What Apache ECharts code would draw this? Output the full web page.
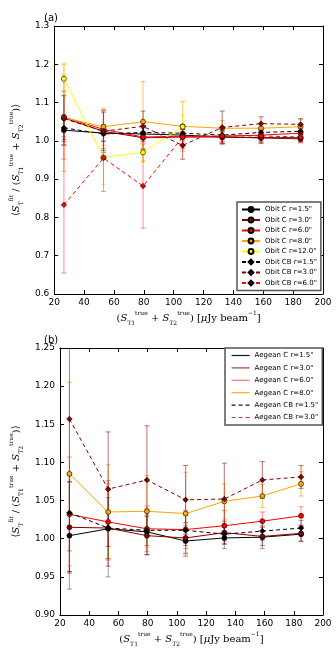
<!DOCTYPE html>
<html>
<head>
<meta charset="utf-8">
<script src="https://cdn.jsdelivr.net/npm/echarts@6/dist/echarts.min.js"></script>
<style>
    html, body { margin: 0; padding: 0; background: #fff; }
    #chart { width: 336px; height: 648px; }
</style>
</head>
<body>
<div id="chart"></div>
<script>
    // flux bins (x), shared by both panels
    const fluxBins = [26.5, 53, 79.5, 106, 132.5, 158.5, 185];

    // panel (a): Obit
    const obitC15 = [1.028, 1.020, 1.018, 1.015, 1.010, 1.008, 1.008];
    const obitC15Err = [0.040, 0.020, 0.015, 0.015, 0.012, 0.012, 0.010];
    const obitC30 = [1.060, 1.025, 1.008, 1.010, 1.010, 1.008, 1.005];
    const obitC30Err = [0.070, 0.055, 0.030, 0.020, 0.015, 0.015, 0.010];
    const obitC60 = [1.062, 1.030, 1.010, 1.012, 1.012, 1.015, 1.020];
    const obitC60Err = [0.110, 0.050, 0.030, 0.020, 0.020, 0.015, 0.012];
    const obitC80 = [1.060, 1.037, 1.050, 1.038, 1.033, 1.033, 1.037];
    const obitC80Err = [0.140, 0.048, 0.105, 0.065, 0.020, 0.015, 0.020];
    const obitC120 = [1.162, 0.957, 0.970, 1.037, null, null, null];
    const obitC120Err = [0.040, 0.072, 0.022, 0.030, null, null, null];
    const obitCB15 = [1.034, 1.018, 1.022, 1.020, 1.015, 1.022, 1.025];
    const obitCB15Err = [0.030, 0.020, 0.015, 0.015, 0.012, 0.012, 0.010];
    const obitCB30 = [1.058, 1.025, 1.038, 0.988, 1.035, 1.045, 1.043];
    const obitCB30Err = [0.060, 0.050, 0.040, 0.036, 0.043, 0.018, 0.015];
    const obitCB60 = [0.833, 0.955, 0.882, 1.010, 1.013, 1.013, 1.010];
    const obitCB60Err = [0.178, 0.087, 0.110, 0.030, 0.020, 0.015, 0.012];

    // panel (b): Aegean
    const aegC15 = [1.004, 1.013, 1.009, 0.997, 1.001, 1.002, 1.006];
    const aegC15Err = [0.070, 0.063, 0.030, 0.020, 0.014, 0.015, 0.010];
    const aegC30 = [1.015, 1.014, 1.004, 1.001, 1.008, 1.003, 1.007];
    const aegC30Err = [0.060, 0.050, 0.025, 0.020, 0.015, 0.012, 0.010];
    const aegC60 = [1.032, 1.022, 1.013, 1.012, 1.017, 1.023, 1.030];
    const aegC60Err = [0.075, 0.050, 0.030, 0.025, 0.020, 0.012, 0.012];
    const aegC80 = [1.085, 1.035, 1.036, 1.033, 1.049, 1.056, 1.072];
    const aegC80Err = [0.120, 0.062, 0.047, 0.054, 0.023, 0.015, 0.016];
    const aegCB15 = [1.034, 1.014, 1.011, 1.011, 1.006, 1.010, 1.014];
    const aegCB15Err = [0.050, 0.040, 0.020, 0.020, 0.013, 0.012, 0.010];
    const aegCB30 = [1.157, 1.065, 1.077, 1.051, 1.052, 1.077, 1.081];
    const aegCB30Err = [0.200, 0.075, 0.071, 0.045, 0.047, 0.024, 0.015];

    // tick labels
    const xTicks = [20, 40, 60, 80, 100, 120, 140, 160, 180, 200];
    const yTicksA = ['0.6', '0.7', '0.8', '0.9', '1.0', '1.1', '1.2', '1.3'];
    const yTicksB = ['0.90', '0.95', '1.00', '1.05', '1.10', '1.15', '1.20', '1.25'];

    const colors = {
        black: { line: '#000000', bar: 'rgba(0,0,0,0.35)', key: 'rgba(0,0,0,0.9)' },
        darkred: { line: '#8b0000', bar: 'rgba(139,0,0,0.5)', key: 'rgba(160,40,40,0.9)' },
        red: { line: '#ff0000', bar: 'rgba(255,0,0,0.4)', key: 'rgba(255,110,110,1)' },
        orange: { line: '#ffa500', bar: 'rgba(255,165,0,0.6)', key: 'rgba(255,170,20,1)' },
        yellow: { line: '#ffff00', bar: 'rgba(230,230,0,0.6)', key: 'rgba(255,255,0,1)' },
    };

    const panelA = [
        { name: 'Obit C r=1.5"', y: obitC15, err: obitC15Err, c: 'black', dash: false },
        { name: 'Obit C r=3.0"', y: obitC30, err: obitC30Err, c: 'darkred', dash: false },
        { name: 'Obit C r=6.0"', y: obitC60, err: obitC60Err, c: 'red', dash: false },
        { name: 'Obit C r=8.0"', y: obitC80, err: obitC80Err, c: 'orange', dash: false },
        { name: 'Obit C r=12.0"', y: obitC120, err: obitC120Err, c: 'yellow', dash: false },
        { name: 'Obit CB r=1.5"', y: obitCB15, err: obitCB15Err, c: 'black', dash: true },
        { name: 'Obit CB r=3.0"', y: obitCB30, err: obitCB30Err, c: 'darkred', dash: true },
        { name: 'Obit CB r=6.0"', y: obitCB60, err: obitCB60Err, c: 'red', dash: true },
    ];
    const panelB = [
        { name: 'Aegean C r=1.5"', y: aegC15, err: aegC15Err, c: 'black', dash: false },
        { name: 'Aegean C r=3.0"', y: aegC30, err: aegC30Err, c: 'darkred', dash: false },
        { name: 'Aegean C r=6.0"', y: aegC60, err: aegC60Err, c: 'red', dash: false },
        { name: 'Aegean C r=8.0"', y: aegC80, err: aegC80Err, c: 'orange', dash: false },
        { name: 'Aegean CB r=1.5"', y: aegCB15, err: aegCB15Err, c: 'black', dash: true },
        { name: 'Aegean CB r=3.0"', y: aegCB30, err: aegCB30Err, c: 'darkred', dash: true },
    ];

    const rich = {
        t: { fontFamily: 'DejaVu Serif', fontSize: 10, lineHeight: 16, verticalAlign: 'middle', color: '#000' },
        i: { fontFamily: 'DejaVu Serif', fontStyle: 'italic', fontSize: 10, lineHeight: 16, verticalAlign: 'middle', color: '#000' },
        sup: { fontFamily: 'DejaVu Serif', fontSize: 6, lineHeight: 8, verticalAlign: 'top', color: '#000' },
        sub: { fontFamily: 'DejaVu Serif', fontSize: 6, lineHeight: 8, verticalAlign: 'bottom', color: '#000' },
    };
    const xName = '{t|(}{i|S}{sub|T1}{sup|true}{t| + }{i|S}{sub|T2}{sup|true}{t|) [}{i|μ}{t|Jy beam}{sup|−1}{t|]}';
    const yName = '{t|⟨}{i|S}{sub|T}{sup|fit}{t| / (}{i|S}{sub|T1}{sup|true}{t| + }{i|S}{sub|T2}{sup|true}{t|)⟩}';

    function xAxisPair(grid) {
        const base = {
            gridIndex: grid, type: 'value', min: 20, max: 200, interval: 20,
            splitLine: { show: false },
            axisLine: { lineStyle: { color: '#000', width: 1 } },
            axisTick: { inside: true, length: 4, lineStyle: { color: '#000' } },
        };
        return [
            Object.assign({}, base, {
                position: 'bottom',
                axisLabel: { fontFamily: 'DejaVu Sans', fontSize: 9, color: '#000', margin: 4,
                    formatter: v => xTicks.includes(v) ? String(v) : '' },
                name: xName, nameLocation: 'middle', nameGap: 16,
                nameTextStyle: { rich: rich },
            }),
            Object.assign({}, base, { position: 'top', axisLabel: { show: false } }),
        ];
    }

    function yAxisPair(grid, min, max, step, labels) {
        const base = {
            gridIndex: grid, type: 'value', min: min, max: max, interval: step,
            splitLine: { show: false },
            axisLine: { show: true, lineStyle: { color: '#000', width: 1 } },
            axisTick: { show: true, inside: true, length: 4, lineStyle: { color: '#000' } },
        };
        return [
            Object.assign({}, base, {
                position: 'left',
                axisLabel: { fontFamily: 'DejaVu Sans', fontSize: 9, color: '#000', margin: 5,
                    formatter: v => labels[Math.round((v - min) / step)] },
                name: yName, nameLocation: 'middle', nameGap: 28, nameRotate: 90,
                nameTextStyle: { rich: rich },
            }),
            Object.assign({}, base, { position: 'right', axisLabel: { show: false } }),
        ];
    }

    function errorSeries(s, xi, yi) {
        const data = [];
        fluxBins.forEach((x, k) => {
            if (s.y[k] != null) data.push([x, s.y[k], s.err[k]]);
        });
        const col = colors[s.c].bar;
        return {
            type: 'custom', xAxisIndex: xi, yAxisIndex: yi, clip: true, z: 2,
            silent: true, legendHoverLink: false,
            data: data,
            renderItem: (params, api) => {
                const x = api.value(0), y = api.value(1), e = api.value(2);
                const lo = api.coord([x, y - e]);
                const hi = api.coord([x, y + e]);
                const w = 2.5;
                const st = { stroke: col, lineWidth: 1.1 };
                return {
                    type: 'group',
                    children: [
                        { type: 'line', shape: { x1: lo[0], y1: lo[1], x2: hi[0], y2: hi[1] }, style: st },
                        { type: 'line', shape: { x1: lo[0] - w, y1: lo[1], x2: lo[0] + w, y2: lo[1] }, style: st },
                        { type: 'line', shape: { x1: hi[0] - w, y1: hi[1], x2: hi[0] + w, y2: hi[1] }, style: st },
                    ],
                };
            },
        };
    }

    function lineSeries(s, xi, yi) {
        const data = [];
        fluxBins.forEach((x, k) => {
            if (s.y[k] != null) data.push([x, s.y[k]]);
        });
        return {
            name: s.name, type: 'line', xAxisIndex: xi, yAxisIndex: yi, z: 3,
            data: data,
            symbol: s.dash ? 'diamond' : 'circle',
            symbolSize: s.dash ? 5.5 : 5,
            itemStyle: { color: colors[s.c].line, borderColor: '#000', borderWidth: 0.6 },
            lineStyle: { color: colors[s.c].line, width: 1, type: s.dash ? [4, 3] : 'solid' },
        };
    }

    const series = [];
    panelA.forEach(s => series.push(errorSeries(s, 0, 0)));
    panelA.forEach(s => series.push(lineSeries(s, 0, 0)));
    panelB.forEach(s => series.push(errorSeries(s, 2, 2)));
    panelB.forEach(s => series.push(lineSeries(s, 2, 2)));

    const legendCommon = {
        orient: 'vertical',
        backgroundColor: '#fff',
        borderColor: '#555',
        borderWidth: 1.5,
        borderRadius: 0,
        itemWidth: 18,
        itemHeight: 6,
        textStyle: { fontFamily: 'DejaVu Sans', fontSize: 7, color: '#000' },
    };

    const chart = echarts.init(document.getElementById('chart'), null, { renderer: 'canvas' });
    chart.setOption({
        animation: false,
        backgroundColor: '#fff',
        grid: [
            { left: 43, right: 13, top: 26, height: 268 },
            { left: 43, right: 13, top: 348, height: 268 },
        ],
        xAxis: xAxisPair(0).concat(xAxisPair(1)),
        yAxis: yAxisPair(0, 0.6, 1.3, 0.1, yTicksA).concat(yAxisPair(1, 0.9, 1.25, 0.05, yTicksB)),
        legend: [
            Object.assign({}, legendCommon, {
                left: 237, top: 202, itemGap: 3.5, padding: [4, 4, 4, 4],
                data: panelA.map(s => s.name),
            }),
            Object.assign({}, legendCommon, {
                left: 225, top: 348, itemGap: 5.4, padding: [4, 4, 4, 6],
                itemStyle: { opacity: 0 },
                data: panelB.map(s => ({
                    name: s.name,
                    lineStyle: { color: colors[s.c].key, width: 1.2 },
                })),
            }),
        ],
        graphic: [
            { type: 'text', left: 44, top: 13, style: { text: '(a)', font: '10px DejaVu Sans', fill: '#000' } },
            { type: 'text', left: 44, top: 335, style: { text: '(b)', font: '10px DejaVu Sans', fill: '#000' } },
        ],
        series: series,
    });
</script>
</body>
</html>
